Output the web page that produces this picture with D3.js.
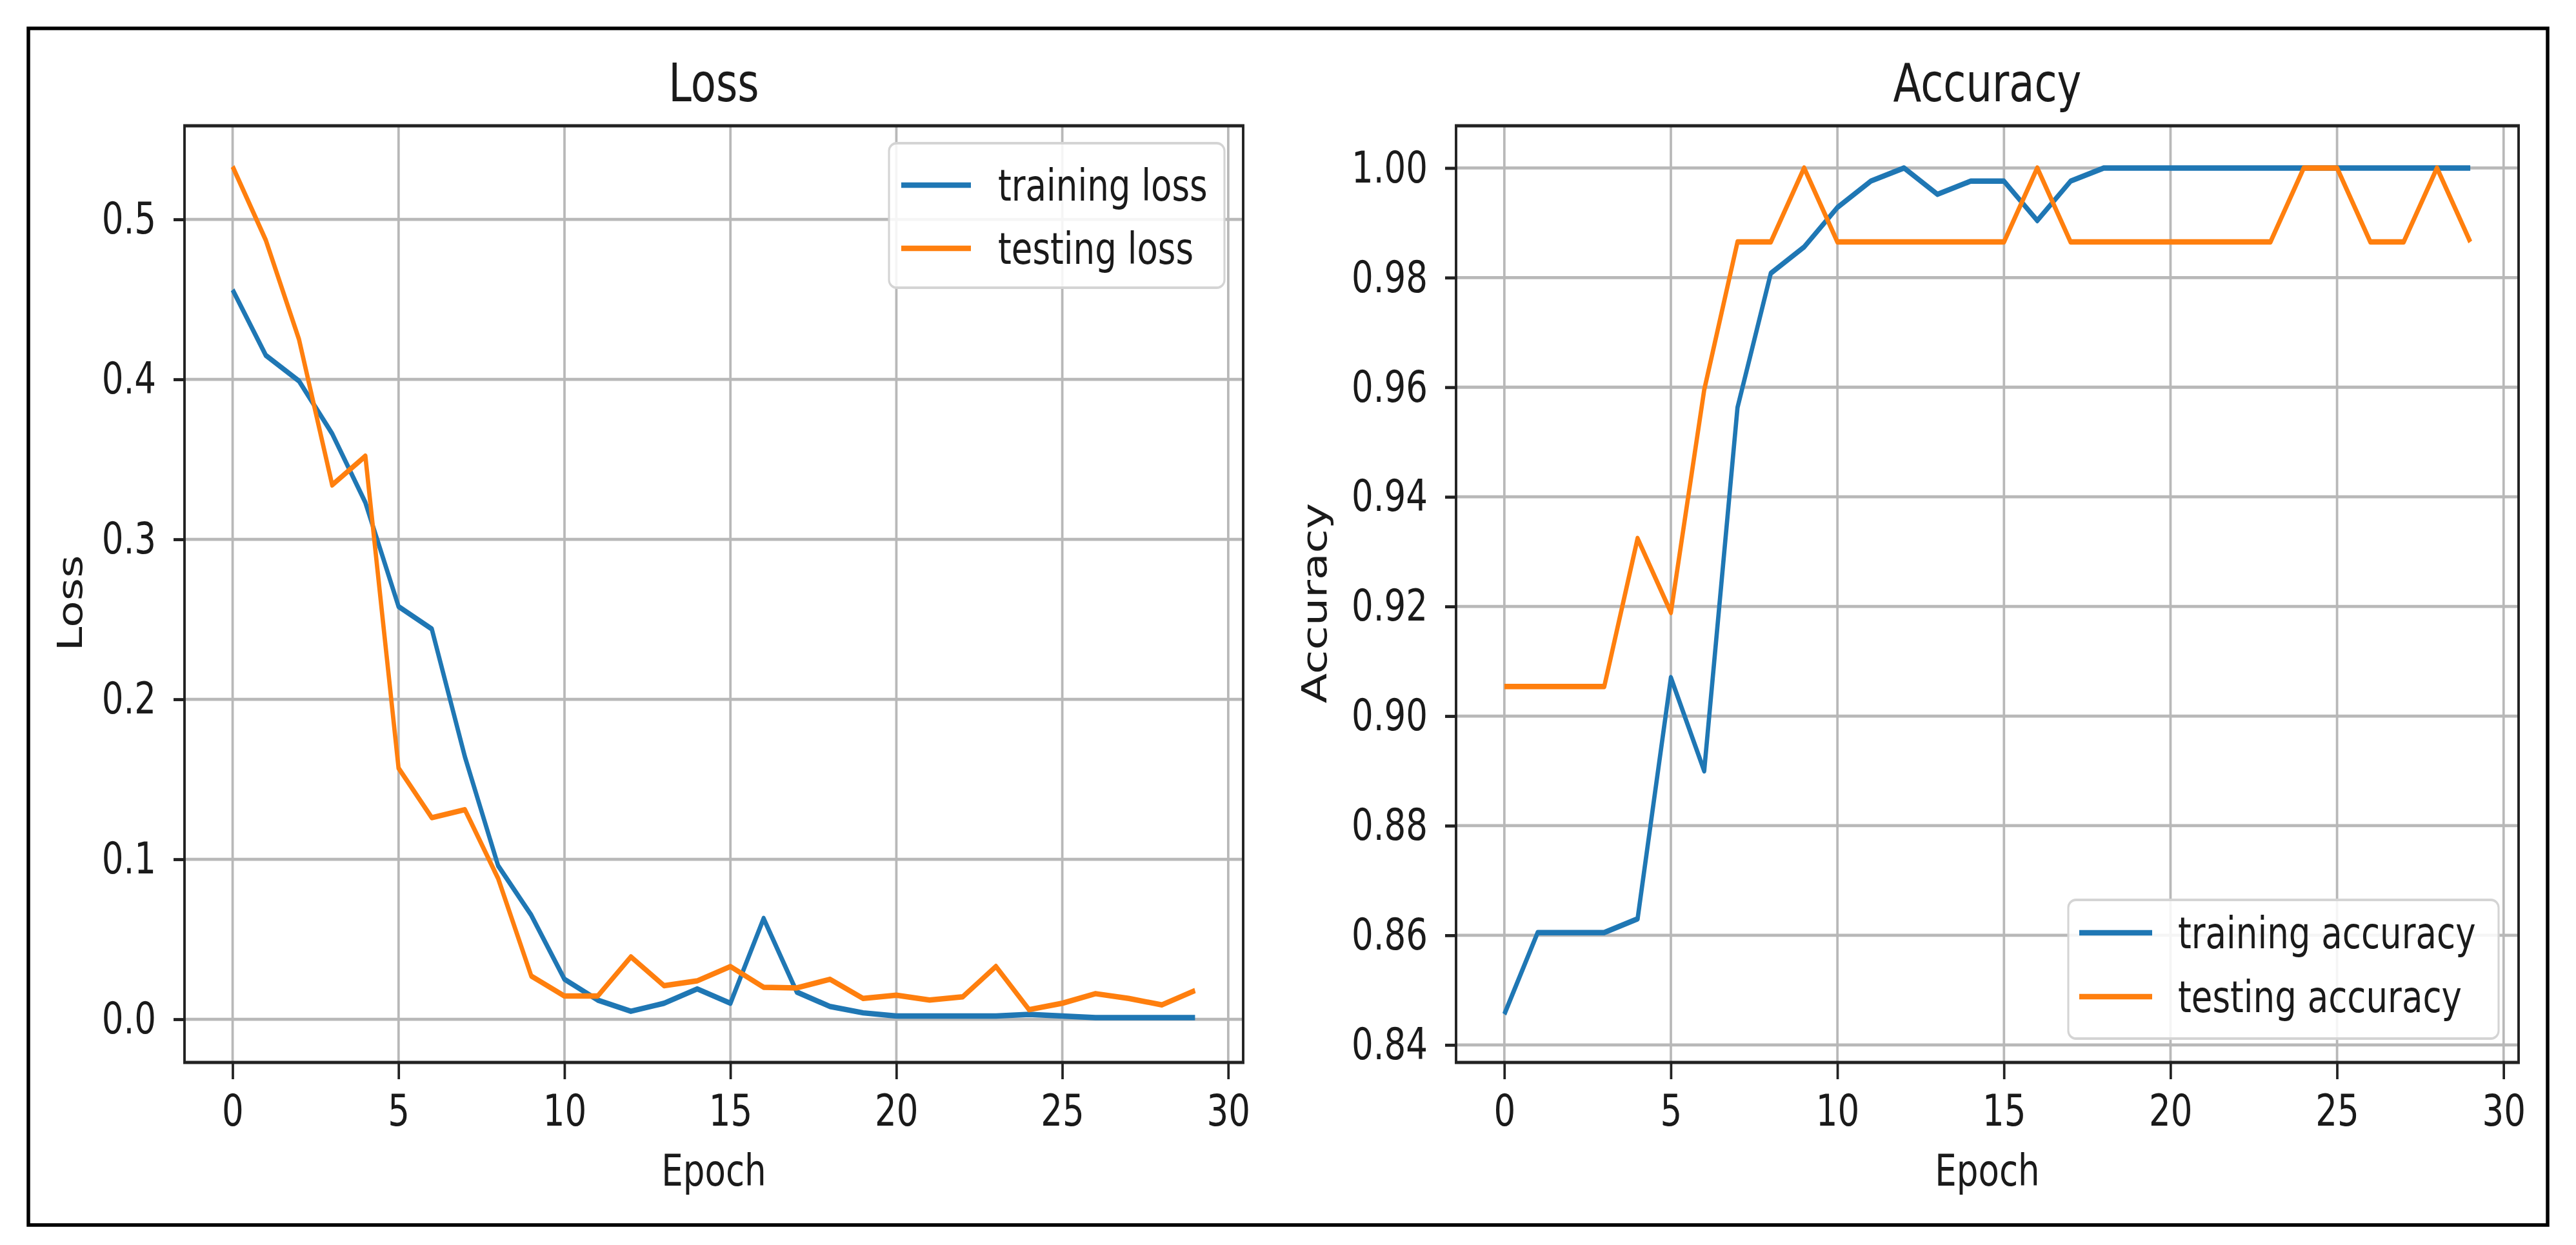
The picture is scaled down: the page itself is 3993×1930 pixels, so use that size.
<!DOCTYPE html>
<html><head><meta charset="utf-8">
<script src="https://cdn.jsdelivr.net/npm/d3@7"></script>
<style>body{margin:0;background:#fff}svg{display:block}</style>
</head><body>
<script>
// ---------- data ----------
const epochs = d3.range(30);
const trainLoss = [0.456,0.415,0.399,0.366,0.323,0.258,0.244,0.164,0.096,0.065,0.025,0.012,0.005,0.010,0.019,0.010,0.063,0.017,0.008,0.004,0.002,0.002,0.002,0.002,0.003,0.002,0.001,0.001,0.001,0.001];
const testLoss  = [0.533,0.487,0.425,0.334,0.352,0.157,0.126,0.131,0.088,0.027,0.0145,0.0145,0.039,0.021,0.024,0.033,0.020,0.0196,0.025,0.013,0.015,0.012,0.014,0.033,0.006,0.010,0.016,0.013,0.009,0.018];
const trainAcc  = [0.8456,0.8605,0.8605,0.8605,0.863,0.907,0.890,0.9563,0.9808,0.9856,0.9928,0.9976,1.0,0.9952,0.9976,0.9976,0.9904,0.9976,1,1,1,1,1,1,1,1,1,1,1,1];
const testAcc   = [0.9054,0.9054,0.9054,0.9054,0.9324,0.9189,0.9595,0.9865,0.9865,1.0,0.9865,0.9865,0.9865,0.9865,0.9865,0.9865,1.0,0.9865,0.9865,0.9865,0.9865,0.9865,0.9865,0.9865,1.0,1.0,0.9865,0.9865,1.0,0.9865];
const epochTicks = [0,5,10,15,20,25,30];
const lossTicks = [0.0,0.1,0.2,0.3,0.4,0.5];
const accTicks = [0.84,0.86,0.88,0.90,0.92,0.94,0.96,0.98,1.00];
const lossLegend = ["training loss","testing loss"];
const accLegend = ["training accuracy","testing accuracy"];
const seriesColors = ["#1f77b4","#ff7f0e"];

// ---------- layout ----------
const W = 3993, H = 1930, SX = 0.78;
const X = v => v / SX;
const FONT = "DejaVu Sans, Verdana, sans-serif";
const TXT = "#1a1a1a";

const svg = d3.select("body").append("svg").attr("width", W).attr("height", H);
svg.append("rect").attr("width", W).attr("height", H).attr("fill", "#fff");
svg.append("rect").attr("x", 44).attr("y", 44).attr("width", 3905).attr("height", 1855)
  .attr("fill", "none").attr("stroke", "#000").attr("stroke-width", 5.5);

const root = svg.append("g").attr("transform", `scale(${SX},1)`);

function panel(o) {
  const x = d3.scaleLinear().domain([-1.45, 30.45]).range([X(o.left), X(o.right)]);
  const y = d3.scaleLinear().domain(o.ydom).range([o.bottom, o.top]);
  const p = root.append("g");

  // grid
  p.append("g").selectAll("line").data(epochTicks).join("line")
    .attr("x1", d => x(d)).attr("x2", d => x(d)).attr("y1", o.top).attr("y2", o.bottom)
    .attr("stroke", "#b8b8b8").attr("stroke-width", 4.8);
  p.append("g").selectAll("line").data(o.yticks).join("line")
    .attr("x1", X(o.left)).attr("x2", X(o.right)).attr("y1", d => y(d)).attr("y2", d => y(d))
    .attr("stroke", "#b8b8b8").attr("stroke-width", 4.8);

  // series
  const line = d3.line().x((d, i) => x(epochs[i])).y(d => y(d));
  o.series.forEach((s, k) => {
    p.append("path").datum(s).attr("d", line).attr("fill", "none")
      .attr("stroke", seriesColors[k]).attr("stroke-width", 8.5)
      .attr("stroke-linejoin", "round").attr("stroke-linecap", "butt");
  });

  // axes
  const ax = p.append("g").attr("transform", `translate(0,${o.bottom})`)
    .call(d3.axisBottom(x).tickValues(epochTicks).tickFormat(d3.format("d")).tickSize(26).tickPadding(24));
  const ay = p.append("g").attr("transform", `translate(${X(o.left)},0)`)
    .call(d3.axisLeft(y).tickValues(o.yticks).tickFormat(d3.format(o.fmt)).tickSize(X(17)).tickPadding(X(27)));
  [ax, ay].forEach(a => {
    a.select(".domain").remove();
    a.selectAll(".tick line").attr("stroke", "#222").attr("stroke-width", 4.8);
    a.selectAll(".tick text").attr("fill", TXT).style("font-family", FONT).style("font-size", "68px");
  });

  // spines
  p.append("rect").attr("x", X(o.left)).attr("y", o.top)
    .attr("width", X(o.right) - X(o.left)).attr("height", o.bottom - o.top)
    .attr("fill", "none").attr("stroke", "#222").attr("stroke-width", 5);

  // title and labels
  p.append("text").attr("x", X((o.left + o.right) / 2)).attr("y", 157)
    .attr("text-anchor", "middle").attr("fill", TXT)
    .style("font-family", FONT).style("font-size", "82px").text(o.title);
  p.append("text").attr("x", X((o.left + o.right) / 2)).attr("y", 1838)
    .attr("text-anchor", "middle").attr("fill", TXT)
    .style("font-family", FONT).style("font-size", "68px").text("Epoch");
  p.append("text").attr("transform", `translate(${X(o.ylabelX)},${(o.top + o.bottom) / 2 + 14}) rotate(-90)`)
    .attr("text-anchor", "middle").attr("fill", TXT)
    .style("font-family", FONT).style("font-size", "68px").text(o.ylabel);

  // legend
  const L = o.legend;
  const lg = p.append("g");
  lg.append("rect").attr("x", X(L.x0)).attr("y", L.y0)
    .attr("width", X(L.x1) - X(L.x0)).attr("height", L.y1 - L.y0)
    .attr("rx", X(12)).attr("ry", 12)
    .attr("fill", "#fff").attr("fill-opacity", 0.85)
    .attr("stroke", "#d4d4d4").attr("stroke-width", 4);
  L.labels.forEach((t, k) => {
    const yy = L.rows[k];
    lg.append("line").attr("x1", X(L.hx0)).attr("x2", X(L.hx1)).attr("y1", yy).attr("y2", yy)
      .attr("stroke", seriesColors[k]).attr("stroke-width", 8.5);
    lg.append("text").attr("x", X(L.tx)).attr("y", yy).attr("dy", "0.36em")
      .attr("fill", TXT).style("font-family", FONT).style("font-size", "68px").text(t);
  });
}

panel({
  left: 286, right: 1927, top: 195, bottom: 1647,
  ydom: [-0.027, 0.5585], yticks: lossTicks, fmt: ".1f",
  series: [trainLoss, testLoss], title: "Loss", ylabel: "Loss", ylabelX: 127,
  legend: { x0: 1378, x1: 1898, y0: 222, y1: 446, hx0: 1397, hx1: 1505, tx: 1547, rows: [287, 385], labels: lossLegend }
});
panel({
  left: 2257, right: 3904, top: 195, bottom: 1647,
  ydom: [0.8368, 1.0077], yticks: accTicks, fmt: ".2f",
  series: [trainAcc, testAcc], title: "Accuracy", ylabel: "Accuracy", ylabelX: 2056,
  legend: { x0: 3206, x1: 3873, y0: 1395, y1: 1610, hx0: 3223, hx1: 3336, tx: 3376, rows: [1446, 1545], labels: accLegend }
});
</script>
</body></html>
